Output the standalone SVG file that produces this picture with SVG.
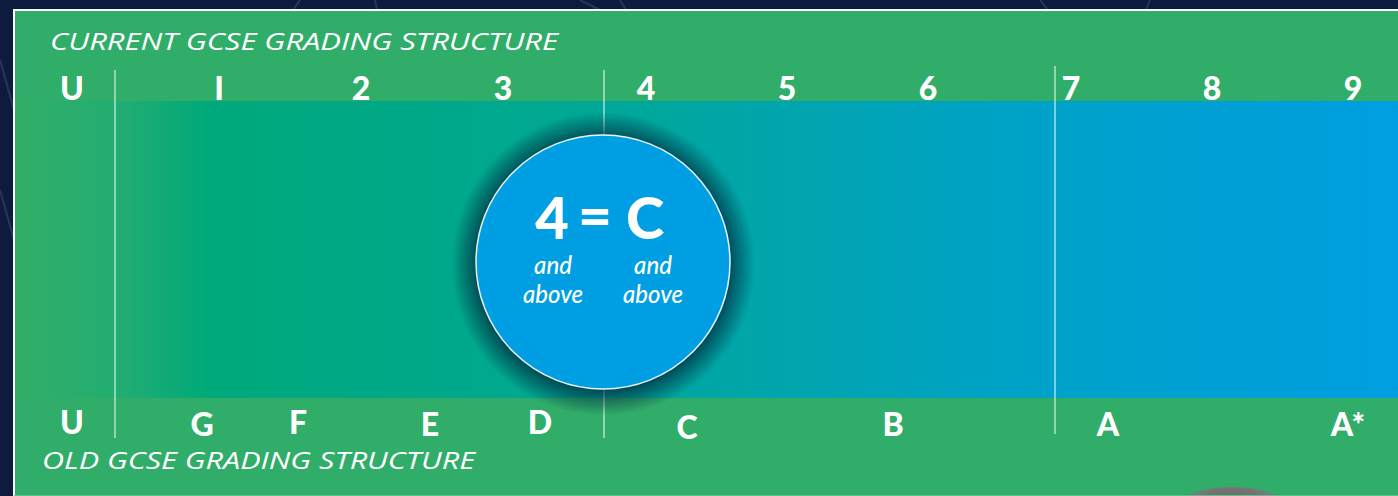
<svg xmlns="http://www.w3.org/2000/svg" width="1398" height="496" viewBox="0 0 1398 496">
  <style>
    .title { font-family: "Open Sans", "Liberation Sans", sans-serif; font-style: italic; font-size: 23px; fill: #ffffff; }
    .grade { font-family: "Lato", "Liberation Sans", sans-serif; font-weight: 900; font-size: 32px; fill: #ffffff; text-anchor: middle; }
    .big { font-family: "Lato", "Liberation Sans", sans-serif; font-weight: 900; font-size: 58px; fill: #ffffff; text-anchor: middle; }
    .small { font-family: "Lato", "Open Sans", sans-serif; font-style: italic; font-weight: 500; font-size: 24px; fill: #ffffff; text-anchor: middle; }
    .divider { stroke: #ffffff; stroke-opacity: 0.65; stroke-width: 1.5; }
    .bgline { stroke: #3a4868; stroke-width: 2; fill: none; opacity: 0.6; }
  </style>
  <defs>
    <linearGradient id="band" x1="0" y1="0" x2="1" y2="0">
      <stop offset="0" stop-color="#33ad68"/>
      <stop offset="0.075" stop-color="#22ad72"/>
      <stop offset="0.14" stop-color="#00a97a"/>
      <stop offset="0.4" stop-color="#00a893"/>
      <stop offset="0.7" stop-color="#00a2c4"/>
      <stop offset="1" stop-color="#009fe2"/>
    </linearGradient>
    <radialGradient id="shadow" cx="0.5" cy="0.5" r="0.5">
      <stop offset="0.8" stop-color="#002a40" stop-opacity="0.85"/>
      <stop offset="1" stop-color="#002a40" stop-opacity="0"/>
    </radialGradient>
    <radialGradient id="puck" cx="0.5" cy="0.3" r="0.6">
      <stop offset="0" stop-color="#555555"/>
      <stop offset="0.8" stop-color="#8a8a8a"/>
      <stop offset="1" stop-color="#c8c8c8"/>
    </radialGradient>
  </defs>

  <!-- background -->
  <rect x="0" y="0" width="1398" height="496" fill="#0f1b3e"/>
  <g class="bgline">
    <line x1="0" y1="190" x2="14" y2="240"/>
    <line x1="0" y1="60" x2="14" y2="110"/>
    <line x1="300" y1="0" x2="293" y2="10"/>
    <line x1="375" y1="0" x2="377" y2="10"/>
    <line x1="580" y1="0" x2="600" y2="10"/>
    <line x1="620" y1="0" x2="626" y2="10"/>
    <line x1="1040" y1="0" x2="1048" y2="10"/>
    <line x1="1150" y1="0" x2="1146" y2="10"/>
  </g>

  <!-- panel -->
  <rect x="14" y="10" width="1390" height="490" fill="#31ad6a" stroke="#ffffff" stroke-width="2"/>

  <!-- band -->
  <rect x="15" y="101" width="1383" height="297" fill="url(#band)"/>

  <!-- gray object bottom right -->
  <ellipse cx="1232" cy="532" rx="78" ry="45" fill="url(#puck)"/>
  <rect x="14" y="495" width="1384" height="1" fill="#5cc18a"/>

  <!-- connectors (dividers) -->
  <g id="connectors">
    <line class="divider" x1="115" y1="70" x2="115" y2="438"/>
    <line class="divider" x1="604" y1="70" x2="604" y2="438"/>
    <line class="divider" x1="1055" y1="66" x2="1055" y2="434"/>
  </g>

  <g id="title-current">
    <text class="title" x="50" y="50" textLength="508" lengthAdjust="spacingAndGlyphs">CURRENT GCSE GRADING STRUCTURE</text>
  </g>
  <g id="title-old">
    <text class="title" x="42" y="469" textLength="433" lengthAdjust="spacingAndGlyphs">OLD GCSE GRADING STRUCTURE</text>
  </g>

  <g id="new-grades">
    <text class="grade" x="72" y="100">U</text>
    <text class="grade" x="219" y="100">I</text>
    <text class="grade" x="361" y="100">2</text>
    <text class="grade" x="503" y="100">3</text>
    <text class="grade" x="646" y="100">4</text>
    <text class="grade" x="787" y="100">5</text>
    <text class="grade" x="928" y="100">6</text>
    <text class="grade" x="1071" y="100">7</text>
    <text class="grade" x="1212" y="100">8</text>
    <text class="grade" x="1353" y="100">9</text>
  </g>

  <g id="old-grades">
    <text class="grade" x="72" y="434">U</text>
    <text class="grade" x="202" y="436">G</text>
    <text class="grade" x="298" y="434">F</text>
    <text class="grade" x="430" y="436">E</text>
    <text class="grade" x="540" y="434">D</text>
    <text class="grade" x="687" y="439">C</text>
    <text class="grade" x="893" y="436">B</text>
    <text class="grade" x="1108" y="436">A</text>
    <text class="grade" x="1348" y="436">A*</text>
  </g>

  <g id="equivalence">
    <circle cx="603" cy="264" r="152" fill="url(#shadow)"/>
    <circle cx="603" cy="262" r="127" fill="#009fe3" stroke="#e8f4fb" stroke-width="1.5"/>
    <text class="big" x="552" y="239">4</text>
    <text class="big" x="595" y="236" textLength="34" lengthAdjust="spacingAndGlyphs">=</text>
    <text class="big" x="645" y="239">C</text>
    <text class="small" x="553" y="274">and</text>
    <text class="small" x="553" y="303">above</text>
    <text class="small" x="653" y="274">and</text>
    <text class="small" x="653" y="303">above</text>
  </g>
</svg>
